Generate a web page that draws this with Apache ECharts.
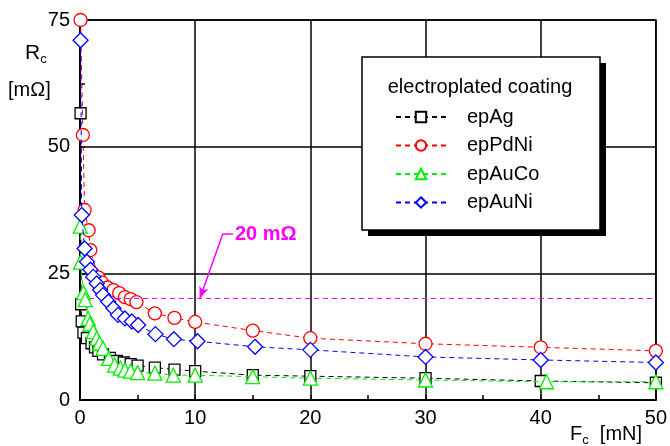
<!DOCTYPE html>
<html>
<head>
<meta charset="utf-8">
<script src="https://cdn.jsdelivr.net/npm/echarts@6/dist/echarts.min.js"></script>
<style>
  html, body { margin: 0; padding: 0; background: #fff; }
  #chart { width: 670px; height: 446px; }
</style>
</head>
<body>
<div id="chart"></div>
<script>
// contact resistance R_c [mOhm] vs contact force F_c [mN]
const FONT = "'Liberation Sans', Arial, sans-serif"

const xTicks = [0, 10, 20, 30, 40, 50]
const yTicks = [0, 25, 50, 75]

const epAg = [
  [0.05, 56.6], [0.1, 18.9], [0.15, 15.5], [0.3, 13.3], [0.6, 12.2], [1.0, 11.2],
  [1.3, 10.4], [1.6, 9.7], [2.0, 9.0], [2.6, 8.3], [3.2, 7.7], [3.8, 7.4],
  [4.4, 7.1], [5.0, 6.8], [6.5, 6.4], [8.2, 6.0], [10, 5.7], [15, 4.9],
  [20, 4.7], [30, 4.3], [40, 3.75], [50, 3.4]
]
const epPdNi = [
  [0.05, 75], [0.25, 52.3], [0.4, 37.5], [0.75, 33.5], [0.9, 29.6], [1.6, 24.2],
  [1.9, 23.2], [2.4, 22.2], [2.9, 21.7], [3.4, 21.1], [3.9, 20.3], [4.4, 19.9],
  [4.9, 19.3], [6.5, 17.1], [8.2, 16.2], [10, 15.4], [15, 13.7], [20, 12.2],
  [30, 11.1], [40, 10.4], [50, 9.7]
]
const epAuCo = [
  [0.02, 34.3], [0.05, 27.2], [0.3, 21.2], [0.45, 19.8], [0.7, 16.1], [0.85, 15.0],
  [1.15, 13.5], [1.45, 12.2], [1.7, 11.2], [2.0, 10.2], [2.5, 8.2], [3.0, 6.9],
  [3.5, 6.3], [3.9, 5.9], [4.4, 5.7], [5.0, 5.4], [6.5, 5.3], [8.1, 4.9],
  [10, 4.9], [15, 4.6], [20, 4.3], [30, 3.95], [40.5, 3.6], [50, 3.6]
]
const epAuNi = [
  [0.05, 71], [0.15, 36.5], [0.4, 29.9], [0.6, 27.3], [0.9, 25.7], [1.15, 24.3],
  [1.45, 23.0], [1.75, 21.7], [2.0, 20.7], [2.45, 19.4], [2.9, 18.1], [3.3, 16.8],
  [3.9, 16.1], [4.5, 15.5], [5.05, 14.8], [6.55, 13.0], [8.15, 12.0], [10.2, 11.6],
  [15.2, 10.5], [20, 9.9], [30, 8.5], [40, 7.9], [50, 7.4]
]

const seriesNames = ['epAg', 'epPdNi', 'epAuCo', 'epAuNi']
const seriesData = [epAg, epPdNi, epAuCo, epAuNi]
const seriesColors = ['#000000', '#ff0000', '#00ee00', '#0000ff']
const seriesSymbols = ['rect', 'circle', 'triangle', 'diamond']
const symbolSizes = [11, 13, 14, 15]

// 20 mOhm limit and its callout arrow
const limitValue = 20
const calloutArrow = [[12.4, 32.8], [10.4, 20]]
const calloutTick = [[12.4, 32.8], [13.3, 32.8]]

const chart = echarts.init(document.getElementById('chart'))

const dataSeries = seriesNames.map((name, i) => ({
  name,
  type: 'line',
  data: seriesData[i],
  symbol: seriesSymbols[i],
  symbolSize: symbolSizes[i],
  showAllSymbol: true,
  color: seriesColors[i],
  itemStyle: { color: '#fff', borderColor: seriesColors[i], borderWidth: 1.3 },
  lineStyle: { color: seriesColors[i], width: 1, type: [5, 4] },
  emphasis: { disabled: true },
  z: 3 + i
}))

dataSeries.push({
  name: 'limit',
  type: 'line',
  data: [],
  silent: true,
  markLine: {
    silent: true,
    animation: false,
    label: { show: false },
    lineStyle: { color: '#ff00ff', width: 1, type: [5, 4] },
    symbol: 'none',
    data: [
      { yAxis: limitValue },
      [
        { coord: calloutArrow[0], symbol: 'none', lineStyle: { type: 'solid', width: 1.5 } },
        { coord: calloutArrow[1], symbol: 'arrow', symbolSize: [7, 12] }
      ],
      [
        { coord: calloutTick[0], symbol: 'none', lineStyle: { type: 'solid', width: 1.5 } },
        { coord: calloutTick[1], symbol: 'none' }
      ]
    ]
  },
  z: 2
})

chart.setOption({
  animation: false,
  backgroundColor: '#fff',
  textStyle: { fontFamily: FONT },
  grid: { left: 80, right: 12, top: 20, bottom: 46, show: true, borderColor: '#000', borderWidth: 1.5 },
  xAxis: {
    type: 'value',
    min: xTicks[0],
    max: xTicks[xTicks.length - 1],
    interval: xTicks[1] - xTicks[0],
    axisLine: { onZero: false, lineStyle: { color: '#000', width: 2 } },
    axisTick: { show: true, inside: true, length: 5, lineStyle: { color: '#000', width: 1.5 } },
    minorTick: { show: true, splitNumber: 2, length: 5, lineStyle: { color: '#000', width: 1.5 } },
    axisLabel: { fontSize: 20, color: '#000', margin: 8, fontFamily: FONT },
    splitLine: { show: true, lineStyle: { color: '#000', width: 1.5 } }
  },
  yAxis: {
    type: 'value',
    min: yTicks[0],
    max: yTicks[yTicks.length - 1],
    interval: yTicks[1] - yTicks[0],
    axisLine: { show: true, lineStyle: { color: '#000', width: 2 } },
    axisTick: { show: true, inside: true, length: 5, lineStyle: { color: '#000', width: 1.5 } },
    minorTick: { show: true, splitNumber: 2, length: 5, lineStyle: { color: '#000', width: 1.5 } },
    axisLabel: { fontSize: 20, color: '#000', margin: 10, fontFamily: FONT },
    splitLine: { show: true, lineStyle: { color: '#000', width: 1.5 } }
  },
  legend: {
    data: seriesNames,
    orient: 'vertical',
    left: 395,
    top: 107,
    padding: 0,
    itemWidth: 50,
    itemHeight: 13,
    itemGap: 8.5,
    z: 60,
    selectedMode: false,
    textStyle: { fontSize: 20, color: '#000', fontFamily: FONT, lineHeight: 20, padding: [0, 0, 0, 16] }
  },
  graphic: [
    { type: 'rect', z: 50, shape: { x: 368, y: 63, width: 238, height: 173 }, style: { fill: '#000' } },
    { type: 'rect', z: 51, shape: { x: 362, y: 57, width: 238, height: 173 }, style: { fill: '#fff', stroke: '#000', lineWidth: 1.5 } },
    { type: 'text', z: 52, x: 480, y: 87, style: { text: 'electroplated coating', fontSize: 20, fill: '#000', fontFamily: FONT, align: 'center', verticalAlign: 'middle' } },
    { type: 'text', z: 52, x: 235, y: 234, style: { text: '20 mΩ', fontSize: 20, fontWeight: 'bold', fill: '#ff00ff', fontFamily: FONT, align: 'left', verticalAlign: 'middle' } },
    {
      type: 'text', z: 52, x: 25, y: 53,
      style: {
        text: '{a|R}{b|c}', verticalAlign: 'middle', fontFamily: FONT,
        rich: { a: { fontSize: 21, fill: '#000', fontFamily: FONT }, b: { fontSize: 13, fill: '#000', fontFamily: FONT, padding: [12, 0, 0, 0] } }
      }
    },
    { type: 'text', z: 52, x: 8, y: 90, style: { text: '[mΩ]', fontSize: 20, fill: '#000', fontFamily: FONT, verticalAlign: 'middle' } },
    {
      type: 'text', z: 52, x: 570, y: 434,
      style: {
        text: '{a|F}{b|c}{a|  [mN]}', verticalAlign: 'middle', fontFamily: FONT,
        rich: { a: { fontSize: 20, fill: '#000', fontFamily: FONT }, b: { fontSize: 13, fill: '#000', fontFamily: FONT, padding: [12, 0, 0, 0] } }
      }
    }
  ],
  series: dataSeries
})
</script>
</body>
</html>
